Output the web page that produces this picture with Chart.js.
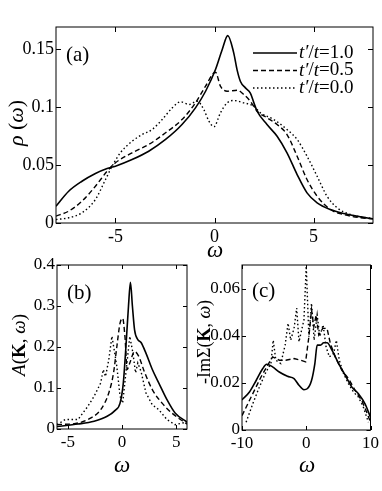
<!DOCTYPE html>
<html>
<head>
<meta charset="utf-8">
<script src="https://cdn.jsdelivr.net/npm/chart.js@4/dist/chart.umd.min.js"></script>
<style>
  body { margin: 0; background: #fff; }
  canvas { position: absolute; }
</style>
</head>
<body>
<canvas id="chartA" width="382" height="264" style="left:0;top:0"></canvas>
<canvas id="chartB" width="192" height="241" style="left:0;top:250px"></canvas>
<canvas id="chartC" width="190" height="241" style="left:192px;top:250px"></canvas>
<script>
// (a) rho(omega) for t'/t = 1.0, 0.5, 0.0
const aW1 = [-8, -7.36, -6.69, -6.01, -5.42, -5, -4.16, -3.32, -2.47, -1.64, -0.96, -0.45, 0.05, 0.39, 0.67, 0.97, 1.14, 1.31, 1.56, 1.81, 1.98, 2.15, 2.65, 3.16, 3.66, 4.17, 4.67, 5.18, 5.85, 6.53, 7.37, 8];
const aR1 = [0.0145, 0.0274, 0.036, 0.0427, 0.047, 0.049, 0.0547, 0.0619, 0.072, 0.0849, 0.0993, 0.1136, 0.1323, 0.1496, 0.1616, 0.1467, 0.132, 0.122, 0.1165, 0.112, 0.104, 0.0964, 0.0849, 0.0748, 0.0605, 0.0418, 0.026, 0.0174, 0.0116, 0.0082, 0.0053, 0.0036];
const aW2 = [-8, -7.36, -6.69, -6.01, -5.42, -5, -4.16, -3.32, -2.47, -1.64, -0.96, -0.45, 0.05, 0.3, 0.64, 1.14, 1.48, 1.81, 2.15, 2.65, 3.16, 3.66, 4.17, 4.67, 5.18, 5.85, 6.53, 7.37, 8];
const aR2 = [0.0059, 0.0102, 0.0188, 0.0317, 0.0447, 0.0519, 0.0605, 0.0677, 0.0778, 0.0892, 0.1036, 0.118, 0.130, 0.118, 0.1136, 0.1145, 0.1108, 0.105, 0.0964, 0.0907, 0.0849, 0.0763, 0.0576, 0.0375, 0.0231, 0.0116, 0.0073, 0.0045, 0.0037];
const aW3 = [-8, -7.36, -6.69, -6.01, -5.5, -5.17, -4.75, -4.16, -3.65, -3.15, -2.64, -2.13, -1.71, -1.29, -0.87, -0.54, -0.28, -0.03, 0.3, 0.64, 0.97, 1.48, 1.98, 2.32, 2.99, 3.66, 4.17, 4.67, 5.18, 5.68, 6.19, 6.86, 8];
const aR3 = [0.003, 0.0045, 0.0088, 0.0203, 0.0375, 0.049, 0.0605, 0.0705, 0.0763, 0.0806, 0.0892, 0.0993, 0.1045, 0.1022, 0.105, 0.0978, 0.0878, 0.083, 0.095, 0.1036, 0.1056, 0.1036, 0.1007, 0.095, 0.0892, 0.0806, 0.072, 0.0576, 0.0403, 0.0231, 0.0131, 0.0073, 0.0037];
const aXTicks = [-5, 0, 5];
const aYTicks = [0, 0.05, 0.1, 0.15];
const legendVals = ['1.0', '0.5', '0.0'];

// (b) A(K, omega)
const bW1 = [-6, -4.06, -2.57, -1.37, -0.63, -0.18, 0.12, 0.36, 0.6, 0.78, 0.96, 1.16, 1.46, 1.76, 2.21, 2.8, 3.4, 4.15, 4.9, 6];
const bA1 = [0.006, 0.012, 0.019, 0.031, 0.0455, 0.063, 0.112, 0.2, 0.3, 0.358, 0.3, 0.242, 0.218, 0.211, 0.185, 0.145, 0.112, 0.0715, 0.039, 0.017];
const bW2 = [-6, -4.06, -2.87, -1.97, -1.22, -0.78, -0.48, -0.18, 0.06, 0.27, 0.48, 0.72, 1.16, 1.55, 2.06, 2.8, 3.7, 4.6, 6];
const bA2 = [0.0106, 0.0146, 0.027, 0.047, 0.088, 0.137, 0.2, 0.258, 0.27, 0.226, 0.145, 0.161, 0.189, 0.177, 0.14, 0.096, 0.063, 0.039, 0.012];
const bW3 = [-6, -5.25, -4.06, -3.16, -2.57, -1.97, -1.73, -1.52, -1.22, -0.93, -0.72, -0.48, -0.18, 0.06, 0.36, 0.72, 1.01, 1.25, 1.46, 1.76, 2.21, 2.8, 3.4, 4.15, 4.9, 6];
const bA3 = [0.0106, 0.023, 0.023, 0.055, 0.08, 0.112, 0.145, 0.128, 0.169, 0.226, 0.193, 0.153, 0.08, 0.063, 0.137, 0.226, 0.185, 0.137, 0.161, 0.14, 0.088, 0.059, 0.047, 0.023, 0.0106, 0.017];
const bXTicks = [-5, 0, 5];
const bYTicks = [0, 0.1, 0.2, 0.3, 0.4];

// (c) -Im Sigma(K, omega)
const cW1 = [-10, -8.84, -7.8, -6.79, -6.17, -5.24, -4.2, -2.93, -1.9, -1.13, -0.36, 0.15, 0.82, 1.34, 1.7, 2.21, 2.72, 3.24, 4.0, 5.04, 6.07, 7.1, 8.12, 9.15, 10];
const cS1 = [0.0128, 0.0161, 0.021, 0.026, 0.0279, 0.0268, 0.0246, 0.0228, 0.0218, 0.019, 0.0171, 0.0175, 0.021, 0.0282, 0.036, 0.036, 0.037, 0.037, 0.0339, 0.0282, 0.0232, 0.0182, 0.0154, 0.0111, 0.0054];
const cW2 = [-10, -9.1, -8.07, -7.04, -6.0, -5.24, -4.2, -3.19, -1.9, -0.87, -0.1, 0.41, 0.82, 1.18, 1.54, 1.95, 2.57, 3.24, 3.75, 4.52, 5.55, 6.58, 7.61, 8.64, 9.41, 10];
const cS2 = [0.0061, 0.0111, 0.0168, 0.0225, 0.0275, 0.031, 0.0296, 0.0296, 0.0303, 0.0296, 0.0289, 0.0396, 0.051, 0.0438, 0.0488, 0.0403, 0.0431, 0.0431, 0.0367, 0.031, 0.0253, 0.0218, 0.0168, 0.0125, 0.0075, 0.0033];
const cW3 = [-9.36, -8.33, -7.3, -6.27, -5.5, -5.14, -4.73, -3.96, -3.29, -2.83, -2.42, -1.9, -1.49, -1.13, -0.72, -0.36, 0, 0.41, 0.82, 1.23, 1.7, 2.11, 2.62, 3.08, 3.6, 4.27, 4.68, 5.14, 5.81, 6.58, 7.35, 8.12, 8.89, 9.67];
const cS3 = [0.0033, 0.0111, 0.0182, 0.0246, 0.0282, 0.0381, 0.0296, 0.0282, 0.036, 0.0453, 0.0381, 0.0431, 0.0517, 0.0374, 0.0424, 0.0467, 0.0695, 0.0396, 0.0538, 0.0381, 0.0488, 0.0396, 0.0446, 0.0353, 0.031, 0.0325, 0.0381, 0.0296, 0.0239, 0.0196, 0.0161, 0.014, 0.0097, 0.0033];
const cXTicks = [-10, 0, 10];
const cYTicks = [0, 0.02, 0.04, 0.06];

const serif = '"Liberation Serif", "DejaVu Serif", serif';
const f = (style, size) => style + ' ' + size + 'px ' + serif;

// solid, dashed, dotted
const lineStyles = [
  { borderWidth: 1.6, borderDash: [] },
  { borderWidth: 1.4, borderDash: [5, 3] },
  { borderWidth: 1.4, borderDash: [1.5, 2.5] }
];

function richText(ctx, parts, x, y, rot, align, base) {
  ctx.save();
  ctx.translate(x, y);
  if (rot) ctx.rotate(rot);
  let total = 0;
  parts.forEach(p => { ctx.font = p[1]; total += ctx.measureText(p[0]).width; });
  let cx = align === 'left' ? 0 : -total / 2;
  ctx.textBaseline = base || 'middle';
  ctx.textAlign = 'left';
  ctx.fillStyle = '#000';
  parts.forEach(p => {
    ctx.font = p[1];
    ctx.fillText(p[0], cx, 0);
    cx += ctx.measureText(p[0]).width;
  });
  ctx.restore();
}

// box round the plot, inward ticks on all four sides, labels and legend
const framePlugin = {
  id: 'frame',
  afterDatasetsDraw(chart, args, opts) {
    const { ctx, chartArea: a } = chart;
    const x = chart.scales.x, y = chart.scales.y;
    const L = opts.tick;
    ctx.save();
    ctx.strokeStyle = '#000';
    ctx.lineWidth = 1;
    ctx.setLineDash([]);
    ctx.strokeRect(a.left, a.top, a.right - a.left, a.bottom - a.top);
    ctx.beginPath();
    x.ticks.forEach(t => {
      const px = Math.round(x.getPixelForValue(t.value)) + 0.5;
      ctx.moveTo(px, a.bottom); ctx.lineTo(px, a.bottom - L);
      ctx.moveTo(px, a.top); ctx.lineTo(px, a.top + L);
    });
    y.ticks.forEach(t => {
      const py = Math.round(y.getPixelForValue(t.value)) + 0.5;
      ctx.moveTo(a.left, py); ctx.lineTo(a.left + L, py);
      ctx.moveTo(a.right, py); ctx.lineTo(a.right - L, py);
    });
    ctx.stroke();
    if (opts.legend) {
      const lg = opts.legend;
      chart.data.datasets.forEach((ds, i) => {
        const ly = lg.y + i * lg.dy;
        ctx.beginPath();
        ctx.lineWidth = ds.borderWidth;
        ctx.setLineDash(ds.borderDash);
        ctx.moveTo(lg.x1, ly); ctx.lineTo(lg.x2, ly);
        ctx.stroke();
        ctx.setLineDash([]);
        richText(ctx, [["t\u2032", f('italic', lg.size)], ["/", f('', lg.size)], ["t", f('italic', lg.size)], ["=" + legendVals[i], f('', lg.size)]], lg.x2 + 2, ly, 0, 'left');
      });
    }
    opts.texts.forEach(t => richText(ctx, t.parts, t.x, t.y, t.rot, t.align, t.base));
    ctx.restore();
  }
};

function pts(xs, ys) { return xs.map((v, i) => ({ x: v, y: ys[i] })); }

function makePanel(id, series, sc, frame) {
  return new Chart(document.getElementById(id), {
    type: 'line',
    data: {
      datasets: series.map((s, i) => ({
        data: pts(s[0], s[1]),
        borderColor: '#000',
        borderWidth: lineStyles[i].borderWidth,
        borderDash: lineStyles[i].borderDash,
        pointRadius: 0,
        fill: false,
        tension: s[2] ? 0.25 : 0,
        cubicInterpolationMode: s[2] ? 'monotone' : 'default'
      }))
    },
    options: {
      responsive: false,
      animation: false,
      layout: { padding: sc.pad },
      plugins: { legend: { display: false }, tooltip: { enabled: false }, frame: frame },
      scales: {
        x: {
          type: 'linear', min: sc.xr[0], max: sc.xr[1],
          afterBuildTicks: s => { s.ticks = sc.xt.map(v => ({ value: v })); },
          afterFit: s => { s.height = sc.xh; },
          grid: { display: false, drawTicks: false },
          border: { display: false },
          ticks: { font: { family: serif, size: sc.fs }, color: '#000', padding: 3, maxRotation: 0, callback: v => String(v) }
        },
        y: {
          type: 'linear', min: sc.yr[0], max: sc.yr[1],
          afterBuildTicks: s => { s.ticks = sc.yt.map(v => ({ value: v })); },
          afterFit: s => { s.width = sc.yw; },
          grid: { display: false, drawTicks: false },
          border: { display: false },
          ticks: { font: { family: serif, size: sc.fs }, color: '#000', padding: 2, callback: v => String(v) }
        }
      }
    },
    plugins: [framePlugin]
  });
}

const up = -Math.PI / 2;

makePanel('chartA', [[aW1, aR1, 1], [aW2, aR2, 1], [aW3, aR3, 1]],
  { pad: { top: 27, right: 9, left: 0, bottom: 0 }, xr: [-8, 8], yr: [0, 0.169], xt: aXTicks, yt: aYTicks, xh: 41, yw: 56, fs: 18 },
  { tick: 5,
    legend: { x1: 253, x2: 297, y: 53, dy: 17.5, size: 19 },
    texts: [
      { parts: [['(a)', f('', 21)]], x: 66, y: 55, align: 'left' },
      { parts: [['\u03c9', f('italic', 23)]], x: 215, y: 257, base: 'alphabetic' },
      { parts: [['\u03c1', f('italic', 22)], [' (', f('', 22)], ['\u03c9', f('italic', 22)], [')', f('', 22)]], x: 17, y: 123, rot: up }
    ] });

makePanel('chartB', [[bW1, bA1, 1], [bW2, bA2, 1], [bW3, bA3, 0]],
  { pad: { top: 15, right: 5, left: 0, bottom: 0 }, xr: [-6, 6], yr: [0, 0.4], xt: bXTicks, yt: bYTicks, xh: 62, yw: 57, fs: 17 },
  { tick: 4,
    texts: [
      { parts: [['(b)', f('', 21)]], x: 67, y: 43, align: 'left' },
      { parts: [['\u03c9', f('italic', 23)]], x: 122, y: 222, base: 'alphabetic' },
      { parts: [['A', f('italic', 19)], ['(', f('', 19)], ['K', f('bold', 19)], [', ', f('', 19)], ['\u03c9', f('italic', 19)], [')', f('', 19)]], x: 20, y: 95, rot: up }
    ] });

makePanel('chartC', [[cW1, cS1, 1], [cW2, cS2, 0], [cW3, cS3, 0]],
  { pad: { top: 15, right: 9, left: 0, bottom: 0 }, xr: [-10, 10], yr: [0, 0.07], xt: cXTicks, yt: cYTicks, xh: 61, yw: 50, fs: 17 },
  { tick: 4,
    texts: [
      { parts: [['(c)', f('', 21)]], x: 60, y: 41, align: 'left' },
      { parts: [['\u03c9', f('italic', 23)]], x: 115, y: 222, base: 'alphabetic' },
      { parts: [['-Im\u03a3', f('', 18)], ['(', f('', 18)], ['K', f('bold', 18)], [', ', f('', 18)], ['\u03c9', f('italic', 18)], [')', f('', 18)]], x: 13, y: 92, rot: up }
    ] });
</script>
</body>
</html>
